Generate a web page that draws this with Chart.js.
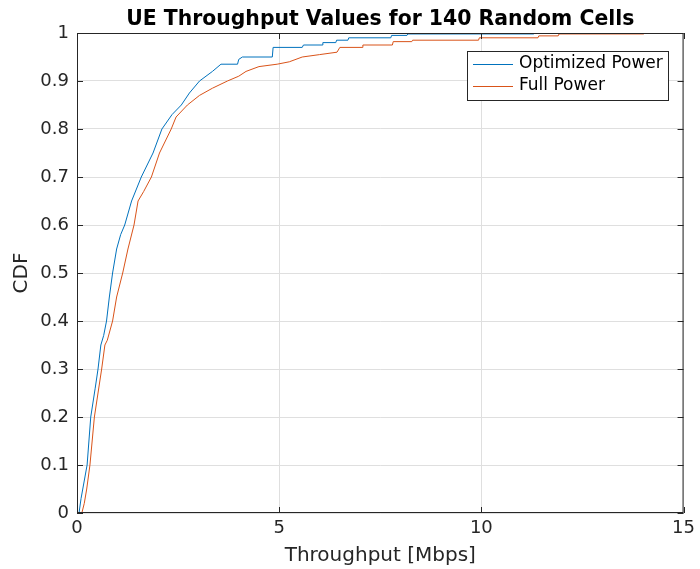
<!DOCTYPE html>
<html>
<head>
<meta charset="utf-8">
<title>UE Throughput CDF</title>
<script src="https://cdn.jsdelivr.net/npm/chart.js@4/dist/chart.umd.min.js"></script>
<style>
  html, body { margin: 0; padding: 0; background: #fff; }
  #wrap { width: 700px; height: 569px; }
</style>
</head>
<body>
<div id="wrap"><canvas id="cdfChart" width="700" height="569"></canvas></div>
<script>
// Empirical CDF readings: throughput [Mbps] and cumulative probability
const optimizedX = [0.05, 0.1, 0.25, 0.34, 0.45, 0.52, 0.59, 0.66, 0.73, 0.80, 0.88, 0.98, 1.08, 1.18, 1.35, 1.59, 1.88, 2.10, 2.35, 2.58, 2.78, 3.03, 3.35, 3.56, 3.97, 4.0, 4.09, 4.83, 4.85, 5.57, 5.6, 6.06, 6.08, 6.4, 6.42, 6.7, 6.72, 7.76, 7.78, 8.16, 8.18, 11.28, 11.3];
const optimizedY = [0, 0.03, 0.1, 0.2, 0.26, 0.3, 0.35, 0.37, 0.4, 0.45, 0.5, 0.55, 0.58, 0.6, 0.65, 0.7, 0.75, 0.8, 0.83, 0.85, 0.875, 0.9, 0.92, 0.935, 0.935, 0.945, 0.95, 0.95, 0.97, 0.97, 0.975, 0.975, 0.98, 0.98, 0.985, 0.985, 0.99, 0.99, 0.995, 0.995, 0.998, 0.998, 1.0];

const fullX = [0.12, 0.18, 0.24, 0.32, 0.43, 0.52, 0.61, 0.69, 0.75, 0.88, 0.98, 1.13, 1.26, 1.41, 1.51, 1.65, 1.84, 2.04, 2.33, 2.45, 2.73, 3.03, 3.35, 3.72, 4.0, 4.18, 4.5, 4.95, 5.25, 5.57, 6.0, 6.43, 6.5, 7.05, 7.07, 7.8, 7.82, 8.28, 8.3, 9.93, 9.95, 11.4, 11.42, 11.9, 11.92, 14.0, 14.02];
const fullY = [0, 0.02, 0.05, 0.1, 0.2, 0.25, 0.3, 0.35, 0.36, 0.4, 0.45, 0.5, 0.55, 0.6, 0.65, 0.67, 0.7, 0.75, 0.8, 0.825, 0.85, 0.87, 0.885, 0.9, 0.91, 0.92, 0.93, 0.935, 0.94, 0.95, 0.955, 0.96, 0.97, 0.97, 0.975, 0.975, 0.982, 0.982, 0.985, 0.985, 0.99, 0.99, 0.994, 0.994, 0.998, 0.998, 1.0];

const seriesNames = ["Optimized Power", "Full Power"];
const seriesColors = ["#0072BD", "#D95319"];
const xTickLabels = ["0", "5", "10", "15"];
const yTickLabels = ["0", "0.1", "0.2", "0.3", "0.4", "0.5", "0.6", "0.7", "0.8", "0.9", "1"];
const chartTitle = "UE Throughput Values for 140 Random Cells";

const FONT = "'DejaVu Sans', sans-serif";
const AXIS_COLOR = "#262626";

function toPoints(xs, ys) {
    return xs.map((x, i) => ({ x: x, y: ys[i] }));
}

// Title, axes box with inward ticks and the legend, drawn after the datasets
const decorations = {
    id: "decorations",
    afterDraw(chart) {
        const c = chart.ctx;
        const a = chart.chartArea;
        const xs = chart.scales.x;
        const ys = chart.scales.y;
        c.save();

        // title
        c.fillStyle = "#000";
        c.font = "bold 20.4px " + FONT;
        c.textAlign = "center";
        c.textBaseline = "middle";
        c.fillText(chartTitle, (a.left + a.right) / 2, 20);

        // box
        c.strokeStyle = AXIS_COLOR;
        c.lineWidth = 1;
        c.strokeRect(a.left + 0.5, a.top + 0.5, a.right - a.left - 1, a.bottom - a.top - 1);

        // inward ticks on all four sides
        const tl = 6;
        c.beginPath();
        ys.ticks.forEach(t => {
            const py = Math.round(ys.getPixelForValue(t.value)) + 0.5;
            c.moveTo(a.left, py); c.lineTo(a.left + tl, py);
            c.moveTo(a.right, py); c.lineTo(a.right - tl, py);
        });
        xs.ticks.forEach(t => {
            const px = Math.round(xs.getPixelForValue(t.value)) + 0.5;
            c.moveTo(px, a.bottom); c.lineTo(px, a.bottom - tl);
            c.moveTo(px, a.top); c.lineTo(px, a.top + tl);
        });
        c.stroke();

        // legend
        const lx = 467, ly = 51, lw = 201, lh = 49;
        c.fillStyle = "#fff";
        c.fillRect(lx, ly, lw, lh);
        c.strokeRect(lx + 0.5, ly + 0.5, lw, lh);
        c.font = "17px " + FONT;
        c.textAlign = "left";
        c.textBaseline = "middle";
        seriesNames.forEach((name, i) => {
            const y = ly + 13 + i * 22;
            c.strokeStyle = seriesColors[i];
            c.beginPath();
            c.moveTo(lx + 6, y + 0.5);
            c.lineTo(lx + 46, y + 0.5);
            c.stroke();
            c.fillStyle = "#000";
            c.fillText(name, lx + 52, y);
        });
        c.restore();
    }
};

const chart = new Chart(document.getElementById("cdfChart"), {
    type: "line",
    data: {
        datasets: [
            {
                label: seriesNames[0],
                data: toPoints(optimizedX, optimizedY),
                borderColor: seriesColors[0],
                borderWidth: 1,
                pointRadius: 0,
                tension: 0,
                fill: false
            },
            {
                label: seriesNames[1],
                data: toPoints(fullX, fullY),
                borderColor: seriesColors[1],
                borderWidth: 1,
                pointRadius: 0,
                tension: 0,
                fill: false
            }
        ]
    },
    options: {
        responsive: false,
        animation: false,
        layout: { padding: { top: 33, right: 14, left: 0, bottom: 0 } },
        plugins: {
            legend: { display: false },
            title: { display: false },
            tooltip: { enabled: false }
        },
        scales: {
            x: {
                type: "linear",
                min: 0,
                max: 15,
                afterFit: s => { s.height = 56; },
                afterBuildTicks: s => { s.ticks = xTickLabels.map(v => ({ value: Number(v) })); },
                ticks: {
                    color: AXIS_COLOR,
                    font: { family: FONT, size: 18 },
                    padding: 5,
                    maxRotation: 0,
                    callback: (v, i) => xTickLabels[i]
                },
                grid: { color: "#dfdfdf", drawTicks: false },
                border: { display: false },
                title: {
                    display: true,
                    text: "Throughput [Mbps]",
                    color: AXIS_COLOR,
                    font: { family: FONT, size: 20 },
                    padding: { top: 0, bottom: 1 }
                }
            },
            y: {
                type: "linear",
                min: 0,
                max: 1,
                afterFit: s => { s.width = 77; },
                afterBuildTicks: s => { s.ticks = yTickLabels.map(v => ({ value: Number(v) })); },
                ticks: {
                    color: AXIS_COLOR,
                    font: { family: FONT, size: 18 },
                    padding: 8,
                    callback: (v, i) => yTickLabels[i]
                },
                grid: { color: "#dfdfdf", drawTicks: false },
                border: { display: false },
                title: {
                    display: true,
                    text: "CDF",
                    color: AXIS_COLOR,
                    font: { family: FONT, size: 20 },
                    padding: { top: 10, bottom: 0 }
                }
            }
        }
    },
    plugins: [decorations]
});
</script>
</body>
</html>
